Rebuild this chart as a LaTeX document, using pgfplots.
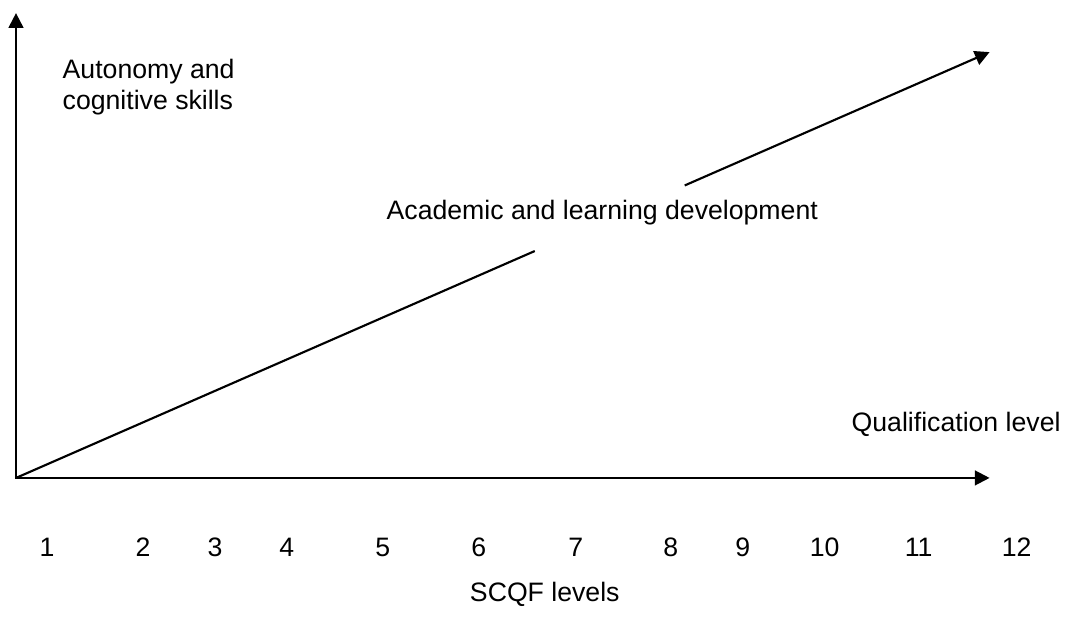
\documentclass[border=0pt]{standalone}
\usepackage{fontspec}
\setmainfont{Liberation Sans}
\usepackage{pgfplots}
\pgfplotsset{compat=1.18}
\usetikzlibrary{arrows.meta}
\begin{document}
\begin{tikzpicture}
\begin{axis}[
  width=798.75pt, height=468.75pt, scale only axis,
  xmin=0, xmax=1065, ymin=0, ymax=625,
  axis line style={draw=none},
  major tick length=0pt,
  ytick=\empty,
  xtick={47,143,215,287,383,479,576,671,743,825,919,1017},
  xticklabels={1,2,3,4,5,6,7,8,9,10,11,12},
  xticklabel style={anchor=base, yshift=51pt, font=\fontsize{20}{23}\selectfont},
  clip=false,
]
% axes drawn as arrows
\addplot[black, line width=1.6pt, -{Triangle[length=11pt,width=11pt]}] coordinates {(16,146) (16,612)};
\addplot[black, line width=1.6pt, -{Triangle[length=11pt,width=11pt]}] coordinates {(15,147) (990,147)};
% diagonal development line with gap for label
\addplot[black, line width=1.6pt] coordinates {(16,147) (535,374)};
\addplot[black, line width=1.6pt, -{Triangle[length=11pt,width=11pt]}] coordinates {(685,439.6) (990,573)};
% labels
\node[anchor=west, align=left, font=\fontsize{20}{23}\selectfont] at (axis cs:58,538) {Autonomy and\\cognitive skills};
\node[font=\fontsize{20}{23}\selectfont] at (axis cs:602.5,412) {Academic and learning development};
\node[font=\fontsize{20}{23}\selectfont] at (axis cs:956.5,201) {Qualification level};
\node[font=\fontsize{20}{23}\selectfont] at (axis cs:545,31) {SCQF levels};
\end{axis}
\end{tikzpicture}
\end{document}
